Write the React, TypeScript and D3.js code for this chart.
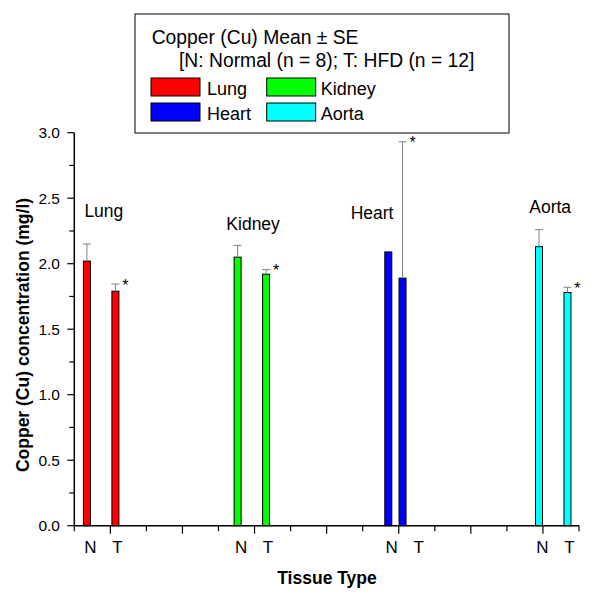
import React from "react";
import * as d3 from "d3";

const categories = ["Lung", "Kidney", "Heart", "Aorta"];
const colors = ["#FF0000", "#00FF00", "#0000FF", "#00FFFF"];
const normalMeans = [2.02, 2.05, 2.09, 2.13];
const normalSE = [0.13, 0.09, 0, 0.13];
const hfdMeans = [1.79, 1.92, 1.89, 1.78];
const hfdSE = [0.055, 0.035, 1.04, 0.04];
const significant = [true, true, true, true];
const groupLabelY = [2.36, 2.26, 2.34, 2.39];
const groupLabelDX = [0.075, 0.035, -0.845, -0.085];
const hfdBarDX = [0.395, 0.395, 0.0, 0.395];
const yTicks = [0, 0.5, 1.0, 1.5, 2.0, 2.5, 3.0];
const legendTitle = "Copper (Cu) Mean ± SE";
const legendSub = "[N: Normal (n = 8); T: HFD (n = 12]";
const yTitle = "Copper (Cu) concentration (mg/l)";
const xTitle = "Tissue Type";

const FONT = "Arial, 'Liberation Sans', Helvetica, sans-serif";

export default function App() {
  const x = d3.scaleLinear().domain([0, 14]).range([74.3, 579]);
  const y = d3.scaleLinear().domain([0, 3]).range([525.7, 132.7]);
  const groupCenter = (i: number) => 0.745 + 4.18 * i;
  const barW = 7;
  const capW = 8;

  const bars: any[] = [];
  categories.forEach((c, i) => {
    bars.push({ i, pos: groupCenter(i) - 0.395, v: normalMeans[i], se: normalSE[i], sig: false });
    bars.push({ i, pos: groupCenter(i) + hfdBarDX[i], v: hfdMeans[i], se: hfdSE[i], sig: significant[i] });
  });

  const minorY = d3.range(0, 3.001, 0.25);
  const xTickVals = d3.range(0, 15);

  const legendItems = [
    { name: categories[0], color: colors[0], sx: 151, sy: 78, tx: 207, ty: 95 },
    { name: categories[1], color: colors[1], sx: 266.7, sy: 78, tx: 320.7, ty: 95 },
    { name: categories[2], color: colors[2], sx: 151, sy: 103, tx: 207, ty: 120 },
    { name: categories[3], color: colors[3], sx: 266.7, sy: 103, tx: 320.7, ty: 120 },
  ];

  return (
    <svg width={600} height={602} style={{ position: "absolute", left: 0, top: 0, background: "#fff" }} fontFamily={FONT}>
      <rect x={0} y={0} width={600} height={602} fill="#fff" />
      {/* bars */}
      {bars.map((b, k) => {
        const cx = x(b.pos);
        const top = y(b.v);
        const errTop = y(b.v + b.se);
        return (
          <g key={k}>
            <rect x={cx - barW / 2} y={top} width={barW} height={y(0) - top} fill={colors[b.i]} stroke="#000" strokeWidth={1} />
            {b.se > 0 && (
              <g stroke="#808080" strokeWidth={1}>
                <line x1={cx} x2={cx} y1={top} y2={errTop} />
                <line x1={cx - capW / 2} x2={cx + capW / 2} y1={errTop} y2={errTop} />
              </g>
            )}
            {b.sig && (
              <text x={cx + 10} y={errTop + 6.5} fontSize={16} textAnchor="middle" fill="#000">*</text>
            )}
          </g>
        );
      })}
      {/* group labels */}
      {categories.map((c, i) => (
        <text key={c} x={x(groupCenter(i) + groupLabelDX[i])} y={y(groupLabelY[i])} fontSize={17.5} textAnchor="middle" fill="#000">{c}</text>
      ))}
      {/* y axis */}
      <line x1={x(0)} x2={x(0)} y1={y(0)} y2={y(3)} stroke="#000" strokeWidth={1.5} />
      {minorY.map((t) => {
        const major = Math.abs(t * 2 - Math.round(t * 2)) < 1e-6;
        return <line key={t} x1={x(0) - (major ? 7 : 5)} x2={x(0)} y1={y(t)} y2={y(t)} stroke="#000" strokeWidth={1.2} />;
      })}
      {yTicks.map((t) => (
        <text key={t} x={60} y={y(t) + 5.5} fontSize={15.5} textAnchor="end" fill="#000">{t.toFixed(1)}</text>
      ))}
      {/* x axis */}
      <line x1={x(0)} x2={x(14)} y1={y(0)} y2={y(0)} stroke="#000" strokeWidth={1.5} />
      {xTickVals.map((t) => (
        <line key={t} x1={x(t)} x2={x(t)} y1={y(0)} y2={y(0) + (t % 2 === 1 ? 8 : 5.5)} stroke="#000" strokeWidth={1.2} />
      ))}
      {categories.map((c, i) => (
        <g key={c}>
          <text x={x(groupCenter(i) - 0.3)} y={552.5} fontSize={17} textAnchor="middle" fill="#000">N</text>
          <text x={x(groupCenter(i) + 0.45)} y={552.5} fontSize={17} textAnchor="middle" fill="#000">T</text>
        </g>
      ))}
      {/* axis titles */}
      <text x={327} y={584} fontSize={17.5} fontWeight="bold" textAnchor="middle" fill="#000">{xTitle}</text>
      <text transform="translate(28.5,335) rotate(-90)" fontSize={17.5} fontWeight="bold" textAnchor="middle" fill="#000">{yTitle}</text>
      {/* legend */}
      <rect x={135} y={14} width={374} height={119} fill="#fff" stroke="#000" strokeWidth={1} />
      <text x={151.7} y={44} fontSize={19.3} fill="#000">{legendTitle}</text>
      <text x={179} y={67} fontSize={19.3} fill="#000">{legendSub}</text>
      {legendItems.map((l) => (
        <g key={l.name}>
          <rect x={l.sx} y={l.sy} width={49} height={18} fill={l.color} stroke="#000" strokeWidth={1} />
          <text x={l.tx} y={l.ty} fontSize={18} fill="#000">{l.name}</text>
        </g>
      ))}
    </svg>
  );
}
